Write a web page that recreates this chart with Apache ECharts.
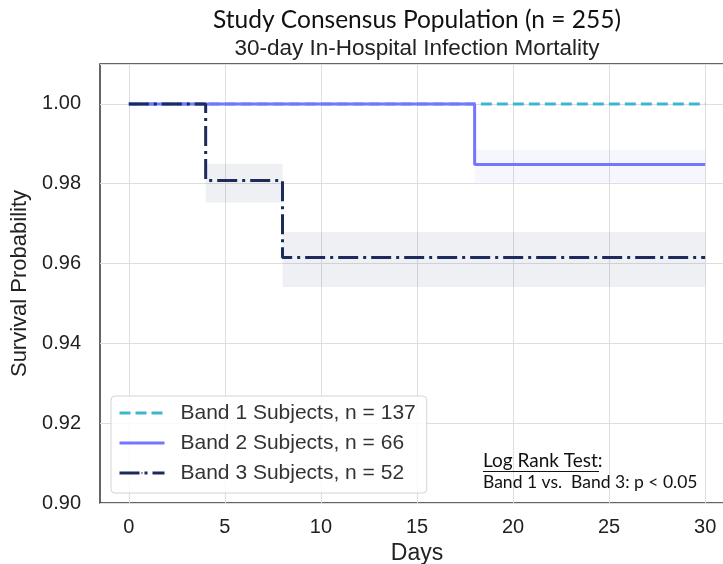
<!DOCTYPE html>
<html>
<head>
<meta charset="utf-8">
<script src="https://cdn.jsdelivr.net/npm/echarts@6/dist/echarts.min.js"></script>
<style>
  html, body { margin: 0; padding: 0; background: #fff; }
  #chart { width: 723px; height: 564px; }
</style>
</head>
<body>
<div id="chart"></div>
<script>
var chartDom = document.getElementById('chart');
var myChart = echarts.init(chartDom);

// Kaplan-Meier step points [day, survival]
var band1 = [[0, 1.0], [30, 1.0]];
var band2 = [[0, 1.0], [18, 0.9848], [30, 0.9848]];
var band3 = [[0, 1.0], [4, 0.9808], [8, 0.9615], [30, 0.9615]];

// confidence bands [fromDay, toDay, lower, upper]
var band2Ci = [[18, 30, 0.9803, 0.9885]];
var band3Ci = [[4, 8, 0.9753, 0.9850], [8, 30, 0.9541, 0.9679]];

var seriesNames = ['Band 1 Subjects, n = 137', 'Band 2 Subjects, n = 66', 'Band 3 Subjects, n = 52'];
var dayTicks = [0, 5, 10, 15, 20, 25, 30];

var sans = '"Liberation Sans", Arial, sans-serif';

function ciSeries(data, color) {
  return {
    type: 'custom',
    silent: true,
    z: 1,
    clip: true,
    data: data,
    renderItem: function(params, api) {
      var p0 = api.coord([api.value(0), api.value(3)]);
      var p1 = api.coord([api.value(1), api.value(2)]);
      return {
        type: 'rect',
        shape: { x: p0[0], y: p0[1], width: p1[0] - p0[0], height: p1[1] - p0[1] },
        style: { fill: color }
      };
    }
  };
}

var option = {
  animation: false,
  backgroundColor: '#fff',
  title: [
    {
      text: 'Study Consensus Population (n = 255)',
      left: 412, top: 3, textAlign: 'center',
      textStyle: { fontFamily: 'Lato', fontWeight: 'normal', fontSize: 24.5, color: '#111' }
    },
    {
      text: '30-day In-Hospital Infection Mortality',
      left: 412, top: 32, textAlign: 'center',
      textStyle: { fontFamily: sans, fontWeight: 'normal', fontSize: 22.5, color: '#222' }
    }
  ],
  grid: {
    left: 100, right: -11, top: 64, bottom: 61,
    outerBoundsMode: 'none',
    show: true, borderColor: '#333', borderWidth: 1.5, backgroundColor: '#fff'
  },
  legend: {
    data: seriesNames,
    orient: 'vertical',
    left: 111, top: 396,
    itemWidth: 45, itemHeight: 2, itemGap: 6,
    padding: [5, 11, 8, 7],
    borderColor: '#d4d4d4', borderWidth: 1, borderRadius: 4,
    backgroundColor: 'rgba(255,255,255,0.85)',
    lineStyle: { width: 3 },
    textStyle: { fontFamily: sans, fontSize: 21, lineHeight: 24, color: '#333', padding: [0, 0, 0, 11] }
  },
  xAxis: {
    type: 'value',
    min: -1.5, max: 31.5,
    name: 'Days',
    nameLocation: 'middle', nameGap: 37,
    nameTextStyle: { fontFamily: sans, fontSize: 23, color: '#222' },
    axisLine: { show: false },
    axisTick: { show: false, customValues: dayTicks },
    axisLabel: { customValues: dayTicks, fontFamily: sans, fontSize: 20, color: '#222', margin: 14 },
    splitLine: { show: true, lineStyle: { color: '#dedede', width: 1 } }
  },
  yAxis: {
    type: 'value',
    min: 0.9, max: 1.01, interval: 0.02,
    name: 'Survival Probability',
    nameLocation: 'middle', nameGap: 61,
    nameTextStyle: { fontFamily: sans, fontSize: 22, color: '#222' },
    axisLine: { show: false },
    axisTick: { show: false },
    axisLabel: {
      showMaxLabel: false,
      fontFamily: sans, fontSize: 20, color: '#222', margin: 19,
      formatter: function(v) { return v.toFixed(2); }
    },
    splitLine: { show: true, lineStyle: { color: '#dedede', width: 1 } }
  },
  graphic: [
    {
      type: 'text', x: 483, y: 461, z: 10,
      style: { text: 'Log Rank Test:', fontFamily: 'Lato', fontSize: 19, fill: '#111', verticalAlign: 'middle' }
    },
    {
      type: 'line', z: 10,
      shape: { x1: 483, y1: 471.5, x2: 599, y2: 471.5 },
      style: { stroke: '#111', lineWidth: 1 }
    },
    {
      type: 'text', x: 483, y: 482, z: 10,
      style: { text: 'Band 1 vs.  Band 3: p < 0.05', fontFamily: 'Lato', fontSize: 17.5, fill: '#111', verticalAlign: 'middle' }
    }
  ],
  series: [
    ciSeries(band2Ci, 'rgba(110,110,255,0.06)'),
    ciSeries(band3Ci, 'rgba(30,43,92,0.07)'),
    {
      name: seriesNames[0], type: 'line', step: 'end', data: band1,
      symbol: 'none', z: 3,
      lineStyle: { color: '#3bb7d0', width: 3, type: [11, 5] },
      itemStyle: { color: '#3bb7d0' }
    },
    {
      name: seriesNames[1], type: 'line', step: 'end', data: band2,
      symbol: 'none', z: 4,
      lineStyle: { color: '#7575ff', width: 3 },
      itemStyle: { color: '#7575ff' }
    },
    {
      name: seriesNames[2], type: 'line', step: 'end', data: band3,
      symbol: 'none', z: 5,
      lineStyle: { color: '#1d2a5c', width: 3, type: [20, 5, 3, 5] },
      itemStyle: { color: '#1d2a5c' }
    }
  ]
};

option && myChart.setOption(option);

window.onresize = function() {
  myChart.resize();
};
</script>
</body>
</html>
